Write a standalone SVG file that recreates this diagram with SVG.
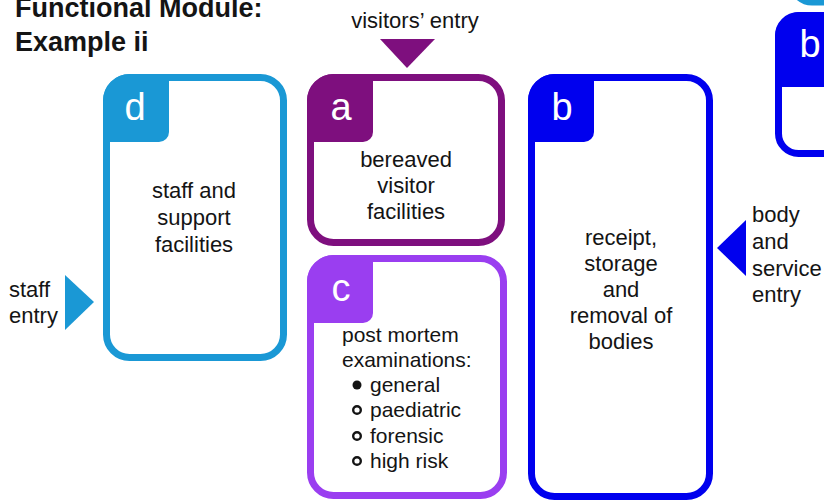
<svg xmlns="http://www.w3.org/2000/svg" width="824" height="501" viewBox="0 0 824 501">
  <style>
    .t { font-family: "Liberation Sans", Arial, sans-serif; fill: #141414; }
    .title { font-size: 27px; font-weight: bold; }
    .lbl { font-size: 22px; }
    .list { font-size: 21px; }
    .body { font-size: 22px; text-anchor: middle; }
    .tab { font-family: "Liberation Sans", Arial, sans-serif; font-size: 38px; fill: #ffffff; text-anchor: middle; }
    .frame { fill: #ffffff; stroke-width: 7; }
    .cd { stroke: #1a98d5; } .fd { fill: #1a98d5; }
    .ca { stroke: #7e0f7e; } .fa { fill: #7e0f7e; }
    .cc { stroke: #9a3ef0; } .fc { fill: #9a3ef0; }
    .cb { stroke: #0000ee; } .fb { fill: #0000ee; }
  </style>

  <rect width="824" height="501" fill="#ffffff"/>

  <!-- heading -->
  <text class="t title" x="15" y="17">Functional Module:</text>
  <text class="t title" x="15" y="51">Example ii</text>

  <!-- neighbouring module, cut off at the right edge -->
  <g id="edge-d">
    <rect class="frame cd" x="792" y="-40" width="60" height="42" rx="20"/>
  </g>
  <g id="edge-b">
    <rect class="frame cb" x="778.5" y="15.5" width="80" height="138" rx="20"/>
    <path class="fb" d="M775,37 A25,25 0 0 1 800,12 H824 V87 H775 Z"/>
    <text class="tab" x="810" y="57">b</text>
  </g>

  <!-- module d -->
  <g id="node-d">
    <rect class="frame cd" x="106.5" y="77.5" width="177" height="280" rx="23"/>
    <path class="fd" d="M103,101 A27,27 0 0 1 130,74 H169 V132 A10,10 0 0 1 159,142 H103 Z"/>
    <text class="tab" x="135" y="120">d</text>
    <text class="t body" x="194" y="198">staff and</text>
    <text class="t body" x="194" y="225">support</text>
    <text class="t body" x="194" y="252">facilities</text>
  </g>

  <!-- module a -->
  <g id="node-a">
    <rect class="frame ca" x="310.5" y="77.5" width="191" height="165" rx="23"/>
    <path class="fa" d="M307,101 A27,27 0 0 1 334,74 H373 V132 A10,10 0 0 1 363,142 H307 Z"/>
    <text class="tab" x="341" y="120">a</text>
    <text class="t body" x="406" y="167">bereaved</text>
    <text class="t body" x="406" y="193">visitor</text>
    <text class="t body" x="406" y="219">facilities</text>
  </g>

  <!-- module c -->
  <g id="node-c">
    <rect class="frame cc" x="310.5" y="258.5" width="193" height="237" rx="23"/>
    <path class="fc" d="M307,282 A27,27 0 0 1 334,255 H373 V313 A10,10 0 0 1 363,323 H307 Z"/>
    <text class="tab" x="341" y="301">c</text>
    <text class="t list" x="342" y="342">post mortem</text>
    <text class="t list" x="342" y="367">examinations:</text>
    <circle cx="357" cy="385" r="4.5" fill="#141414"/>
    <circle cx="357" cy="410" r="3.8" fill="none" stroke="#141414" stroke-width="2.4"/>
    <circle cx="357" cy="436" r="3.8" fill="none" stroke="#141414" stroke-width="2.4"/>
    <circle cx="357" cy="461" r="3.8" fill="none" stroke="#141414" stroke-width="2.4"/>
    <text class="t list" x="370" y="392">general</text>
    <text class="t list" x="370" y="417">paediatric</text>
    <text class="t list" x="370" y="443">forensic</text>
    <text class="t list" x="370" y="468">high risk</text>
  </g>

  <!-- module b -->
  <g id="node-b">
    <rect class="frame cb" x="531.5" y="77.5" width="178" height="419" rx="23"/>
    <path class="fb" d="M528,101 A27,27 0 0 1 555,74 H594 V132 A10,10 0 0 1 584,142 H528 Z"/>
    <text class="tab" x="562" y="120">b</text>
    <text class="t body" x="621" y="245">receipt,</text>
    <text class="t body" x="621" y="271">storage</text>
    <text class="t body" x="621" y="297">and</text>
    <text class="t body" x="621" y="323">removal of</text>
    <text class="t body" x="621" y="349">bodies</text>
  </g>

  <!-- entry points -->
  <g id="connectors">
    <polygon class="fa" points="380,39 435,39 407,68"/>
    <text class="t lbl" x="415" y="28" text-anchor="middle">visitors’ entry</text>

    <polygon class="fd" points="65,275 94,302 65,330"/>
    <text class="t lbl" x="9" y="297">staff</text>
    <text class="t lbl" x="9" y="323">entry</text>

    <polygon class="fb" points="746,220 717,248 746,276"/>
    <text class="t lbl" x="752" y="222">body</text>
    <text class="t lbl" x="752" y="249">and</text>
    <text class="t lbl" x="752" y="276">service</text>
    <text class="t lbl" x="752" y="302">entry</text>
  </g>
</svg>
